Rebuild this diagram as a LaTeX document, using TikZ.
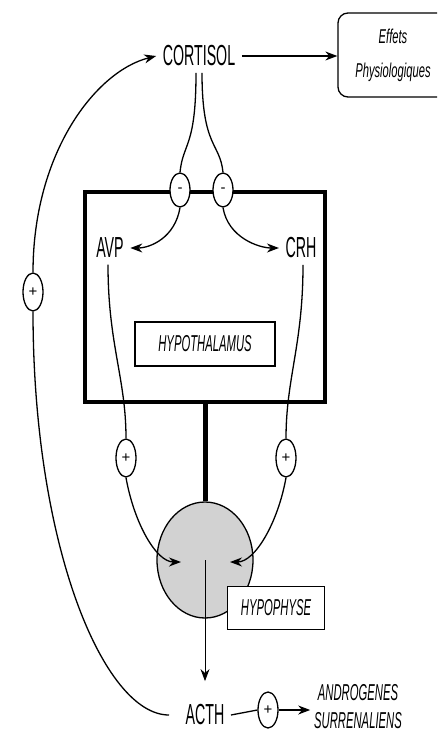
\documentclass[tikz,border=0pt]{standalone}
\usepackage{fontspec}
\setmainfont{Liberation Sans}
\newfontfamily\narrowsf[FakeStretch=0.49]{Liberation Sans}
\newfontfamily\widesf[FakeStretch=0.56]{Liberation Sans}
\usetikzlibrary{arrows.meta,shapes.geometric}

\begin{document}
\begin{tikzpicture}[x=1pt, y=-1pt, line width=1.3pt,
    lbl/.style={font=\narrowsf\fontsize{29}{30}\selectfont, inner sep=6pt},
    tag/.style={font=\narrowsf\itshape\fontsize{23}{28}\selectfont, align=center},
    sign/.style={ellipse, draw, fill=white, inner sep=0pt, minimum width=20pt, minimum height=38pt, font=\fontsize{15}{15}\selectfont},
    arr/.style={-{Stealth[length=12pt,width=9pt]}}]
    \useasboundingbox (0,0) rectangle (437,738);
    \clip (0,0) rectangle (437,738);

    \node[lbl] (cortisol) at (199,56) {CORTISOL};
    \node[draw, rounded corners=10pt, minimum width=110pt, minimum height=84pt, align=center,
          font=\widesf\itshape\fontsize{20}{34}\selectfont] (effets) at (393,55) {Effets\\Physiologiques};

    \node[draw, line width=4pt, minimum width=240pt, minimum height=210pt] (hypbox) at (205,297) {};
    \node[draw, minimum width=140pt, minimum height=44pt, tag] (hypothal) at (205,344) {HYPOTHALAMUS};
    \node[sign, minimum height=34pt] (minL) at (180,190) {-};
    \node[sign, minimum height=34pt] (minR) at (223,190) {-};
    \node[lbl] (avp) at (110,248) {AVP};
    \node[lbl] (crh) at (301,248) {CRH};
    \node[sign] (plusA) at (126,458) {+};
    \node[sign] (plusC) at (286,458) {+};
    \node[sign] (plusF) at (33,292) {+};

    \node[ellipse, draw, fill=gray!35, minimum width=96pt, minimum height=116pt] (hypoph) at (205,560) {};
    \node[draw, fill=white, minimum width=97pt, minimum height=43pt, tag] (hyplabel) at (276,608) {HYPOPHYSE};
    \coordinate (tipL) at (181,562);
    \coordinate (tipR) at (230,562);

    \node[lbl] (acth) at (205,715) {ACTH};
    \node[sign, minimum height=36pt] (plusH) at (268,710) {+};
    \node[tag] (andro) at (358,707) {ANDROGENES\\SURRENALIENS};

    % cortisol feedback
    \draw[arr] (cortisol.east) -- (cortisol.east -| effets.west);
    \draw ([xshift=-3pt]cortisol.south) .. controls +(0,75) and +(3,-30) .. (minL.north);
    \draw ([xshift=3pt]cortisol.south) .. controls +(0,75) and +(-3,-30) .. (minR.north);
    \draw[arr] (minL.south) .. controls +(-5,30) and +(20,0) .. (avp.east);
    \draw[arr] (minR.south) .. controls +(5,30) and +(-20,0) .. (crh.west);

    % hypothalamus to hypophyse
    \draw ([xshift=-2pt]avp.south) .. controls +(0,80) and +(0,-60) .. (plusA.north);
    \draw ([xshift=2pt]crh.south) .. controls +(0,80) and +(0,-60) .. (plusC.north);
    \draw[arr] (plusA.south) .. controls +(8,45) and +(-25,0) .. (tipL);
    \draw[arr] (plusC.south) .. controls +(-8,45) and +(25,0) .. (tipR);
    \draw[line width=5pt] (hypbox.south) -- (hypoph.north);

    % ACTH
    \draw[arr, line width=1pt, shorten >=17pt] (hypoph.center) -- (acth.north);
    \draw (acth.east) -- (plusH.west);
    \draw[arr] (plusH.east) -- (plusH.east -| andro.west);
    \draw ([xshift=-10pt]acth.west) .. controls +(-65,0) and +(0,235) .. (plusF.south);
    \draw[arr] (plusF.north) .. controls +(0,-120) and +(-60,15) .. (cortisol.west);
\end{tikzpicture}
\end{document}
